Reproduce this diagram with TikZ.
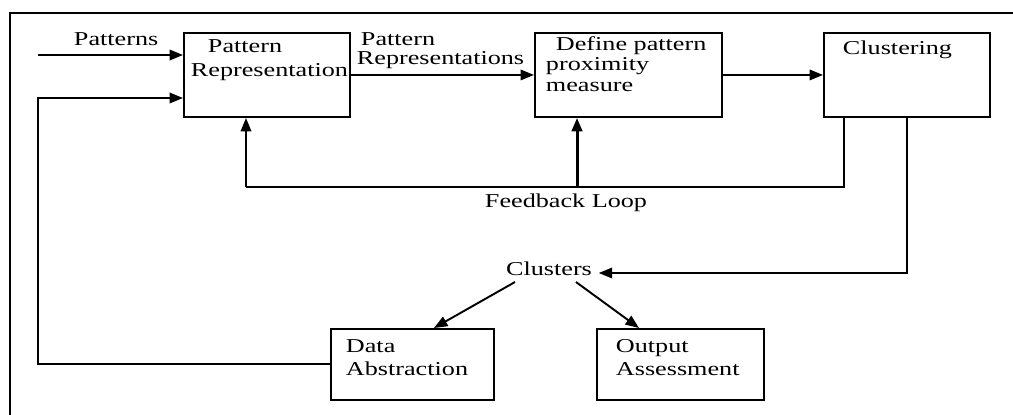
\documentclass[tikz,border=0pt]{standalone}
\usepackage{fontspec}
\setmainfont{Liberation Serif}[FakeStretch=1.33]
\usetikzlibrary{arrows.meta}

\begin{document}
\begin{tikzpicture}[x=0.02cm,y=-0.02cm,>={Triangle[length=0.27cm,width=0.21cm]},
box/.style={draw,line width=1.1pt,inner sep=0pt,anchor=north west},
txt/.style={anchor=base west,inner sep=0pt},
every node/.style={font=\fontsize{11.2}{14}\selectfont},
line width=1.1pt]
\useasboundingbox(0,0)rectangle(1013,415);
% frame
\draw[line width=1.7pt](10,415)--(10,13)--(1013,13);
% boxes
\node[box,minimum width=3.32cm,minimum height=1.68cm](pr)at(183,32){};
\node[box,minimum width=3.74cm,minimum height=1.68cm](dp)at(534,32){};
\node[box,minimum width=3.32cm,minimum height=1.68cm](cl)at(823,32){};
\node[box,minimum width=3.26cm,minimum height=1.42cm](da)at(330,328){};
\node[box,minimum width=3.34cm,minimum height=1.42cm](oa)at(596,328){};
\node[anchor=base](cs)at(549,275){Clusters};
% texts
\node[txt](t1)at(73,46){Patterns};
\node[txt](t2)at(207,53){Pattern};
\node[txt](t3)at(190,77){Representation};
\node[txt](t4)at(360,46){Pattern};
\node[txt](t5)at(356,65){Representations};
\node[txt](t6)at(555,51){Define pattern};
\node[txt](t7)at(545,71){proximity};
\node[txt](t8)at(545,92){measure};
\node[txt](t9)at(842,55){Clustering};
\node[txt](t10)at(484,208){Feedback Loop};
\node[txt](t11)at(345,352){Data};
\node[txt](t12)at(345,375){Abstraction};
\node[txt](t13)at(615,352){Output};
\node[txt](t14)at(615,375){Assessment};
% points
\coordinate(in1)at(38,55);
\coordinate(in2)at(38,98);
\coordinate(fbl)at(246,187);
\coordinate(fbm)at(577,187);
\coordinate(fbr)at(844,187);
\coordinate(cr)at(907,273);
% connectors
\draw[->](in1)--(in1-|pr.west);
\draw[->](da.west)-|(in2)--(in2-|pr.west);
\draw[->](pr.east)--(dp.west);
\draw[->](dp.east)--(cl.west);
\draw(fbr|-cl.south)--(fbr)--(fbl);
\draw[->](fbl)--(fbl|-pr.south);
\draw[->,line width=1.7pt](fbm)--(fbm|-dp.south);
\draw[->](cr|-cl.south)--(cr)--(cr-|cs.east);
\draw[->]([xshift=-0.68cm]cs.south)--([xshift=0.43cm]da.north);
\draw[->]([xshift=0.54cm]cs.south)--([xshift=-0.83cm]oa.north);
\end{tikzpicture}
\end{document}
